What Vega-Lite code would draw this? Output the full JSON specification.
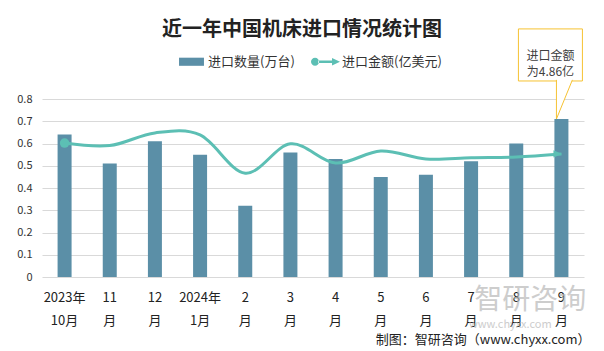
{
  "$schema": "https://vega.github.io/schema/vega-lite/v6.json",
  "width": 542,
  "height": 178,
  "autosize": {"type": "none"},
  "padding": {"left": 42, "top": 99, "right": 20, "bottom": 74},
  "background": "white",
  "title": {"text": "近一年中国机床进口情况统计图", "fontSize": 20, "font": "Noto Sans CJK SC", "fontWeight": "bold", "color": "#222222", "offset": -12, "dx": -11},
  "config": {"view": {"stroke": null}, "font": "Noto Sans CJK SC"},
  "data": {"values": [
    {"month": "2023年10月", "qty": 0.64, "amt": 5.29},
    {"month": "11月", "qty": 0.51, "amt": 5.19},
    {"month": "12月", "qty": 0.61, "amt": 5.69},
    {"month": "2024年1月", "qty": 0.55, "amt": 5.61},
    {"month": "2月", "qty": 0.32, "amt": 4.10},
    {"month": "3月", "qty": 0.56, "amt": 5.26},
    {"month": "4月", "qty": 0.53, "amt": 4.50},
    {"month": "5月", "qty": 0.45, "amt": 4.98},
    {"month": "6月", "qty": 0.46, "amt": 4.66},
    {"month": "7月", "qty": 0.52, "amt": 4.71},
    {"month": "8月", "qty": 0.60, "amt": 4.74},
    {"month": "9月", "qty": 0.71, "amt": 4.86}
  ]},
  "encoding": {
    "x": {
      "field": "month", "type": "nominal",
      "scale": {"domain": ["2023年10月", "11月", "12月", "2024年1月", "2月", "3月", "4月", "5月", "6月", "7月", "8月", "9月"], "paddingInner": 0.5, "paddingOuter": 0.25},
      "axis": {
        "title": "制图：智研咨询（www.chyxx.com）", "titleFontSize": 13, "titleFontWeight": "normal", "titleColor": "#222222",
        "titleAnchor": "end", "titleAlign": "right", "titleX": 548, "titleY": 66, "titleBaseline": "alphabetic",
        "labelAngle": 0, "labelFontSize": 13, "labelColor": "#222222", "labelLineHeight": 23, "labelPadding": 14, "labelOverlap": false,
        "labelExpr": "indexof(datum.label,'年')>0 ? [slice(datum.label,0,indexof(datum.label,'年')+1), slice(datum.label,indexof(datum.label,'年')+1)] : [slice(datum.label,0,length(datum.label)-1), '月']",
        "ticks": false, "domain": false
      }
    }
  },
  "layer": [
    {
      "layer": [
        {
          "mark": {"type": "bar", "width": 14},
          "encoding": {
            "y": {"field": "qty", "type": "quantitative", "scale": {"domain": [0, 0.8], "nice": false},
              "axis": {"title": null, "values": [0, 0.1, 0.2, 0.3, 0.4, 0.5, 0.6, 0.7, 0.8], "format": ".1~f", "grid": true, "gridColor": "#d9d9d9", "domain": false, "ticks": false, "labelPadding": 10, "labelFontSize": 11, "labelColor": "#333333", "labelOverlap": false}},
            "color": {"datum": "进口数量(万台)", "type": "nominal",
              "scale": {"domain": ["进口数量(万台)", "进口金额(亿美元)"], "range": ["#5b8fa7", "#5cbfb4"]},
              "legend": {"orient": "none", "legendX": 135, "legendY": -52, "direction": "horizontal", "title": null, "symbolSize": 841, "labelFontSize": 13, "labelColor": "#333333", "labelOffset": 2, "columnPadding": 16,
                "encode": {"symbols": {"update": {
                  "shape": {"signal": "datum.value === '进口数量(万台)' ? 'M-0.86,-0.28L0.86,-0.28L0.86,0.28L-0.86,0.28Z' : 'M-1,0A0.28,0.28 0 1,0 -0.44,0A0.28,0.28 0 1,0 -1,0ZM-0.5,-0.08L0.6,-0.08L0.6,0.08L-0.5,0.08ZM0.45,-0.26L1,0L0.45,0.26Z'"},
                  "fill": {"signal": "datum.value === '进口数量(万台)' ? '#5b8fa7' : '#5cbfb4'"},
                  "strokeWidth": {"value": 0},
                  "opacity": {"value": 1}
                }}}}
            }
          }
        },
        {
          "data": {"values": [{}]},
          "mark": {"type": "bar", "width": 64, "xOffset": -11, "fill": "white", "stroke": "#f6c232", "strokeWidth": 1},
          "encoding": {"x": {"datum": "9月", "type": "nominal"},
            "y": {"datum": 1.115, "type": "quantitative", "axis": {"title": null, "values": [0, 0.1, 0.2, 0.3, 0.4, 0.5, 0.6, 0.7, 0.8], "format": ".1~f", "grid": true, "gridColor": "#d9d9d9", "domain": false, "ticks": false, "labelPadding": 10, "labelFontSize": 11, "labelColor": "#333333", "labelOverlap": false}},
            "y2": {"datum": 0.881}}
        },
        {
          "data": {"values": [{}]},
          "mark": {"type": "point", "shape": "M-0.42,-1.06L-0.42,1L0.42,-1.06", "size": 1444, "filled": true, "fill": "white", "stroke": "#f6c232", "strokeWidth": 1, "opacity": 1, "xOffset": 3},
          "encoding": {"x": {"datum": "9月", "type": "nominal"},
            "y": {"datum": 0.7955, "type": "quantitative", "axis": {"title": null, "values": [0, 0.1, 0.2, 0.3, 0.4, 0.5, 0.6, 0.7, 0.8], "format": ".1~f", "grid": true, "gridColor": "#d9d9d9", "domain": false, "ticks": false, "labelPadding": 10, "labelFontSize": 11, "labelColor": "#333333", "labelOverlap": false}}}
        },
        {
          "data": {"values": [{}]},
          "mark": {"type": "text", "text": ["进口金额", "为4.86亿"], "lineHeight": 16, "fontSize": 12, "color": "#404040", "xOffset": -11, "baseline": "middle"},
          "encoding": {"x": {"datum": "9月", "type": "nominal"},
            "y": {"datum": 0.993, "type": "quantitative", "axis": {"title": null, "values": [0, 0.1, 0.2, 0.3, 0.4, 0.5, 0.6, 0.7, 0.8], "format": ".1~f", "grid": true, "gridColor": "#d9d9d9", "domain": false, "ticks": false, "labelPadding": 10, "labelFontSize": 11, "labelColor": "#333333", "labelOverlap": false}}}
        },
        {
          "data": {"values": [{}]},
          "mark": {"type": "text", "text": "智研咨询", "fontSize": 28, "color": "#b8b8b8", "opacity": 0.7, "xOffset": 14, "baseline": "middle"},
          "encoding": {"x": {"datum": "8月", "type": "nominal"},
            "y": {"datum": -0.108, "type": "quantitative", "axis": {"title": null, "values": [0, 0.1, 0.2, 0.3, 0.4, 0.5, 0.6, 0.7, 0.8], "format": ".1~f", "grid": true, "gridColor": "#d9d9d9", "domain": false, "ticks": false, "labelPadding": 10, "labelFontSize": 11, "labelColor": "#333333", "labelOverlap": false}}}
        },
        {
          "data": {"values": [{}]},
          "mark": {"type": "text", "text": "www.chyxx.com", "fontSize": 11, "letterSpacing": 5, "color": "#b8b8b8", "opacity": 0.7, "xOffset": -6, "baseline": "middle"},
          "encoding": {"x": {"datum": "8月", "type": "nominal"},
            "y": {"datum": -0.216, "type": "quantitative", "axis": {"title": null, "values": [0, 0.1, 0.2, 0.3, 0.4, 0.5, 0.6, 0.7, 0.8], "format": ".1~f", "grid": true, "gridColor": "#d9d9d9", "domain": false, "ticks": false, "labelPadding": 10, "labelFontSize": 11, "labelColor": "#333333", "labelOverlap": false}}}
        }
      ]
    },
    {
      "layer": [
        {
          "mark": {"type": "line", "interpolate": "cardinal", "strokeWidth": 3},
          "encoding": {
            "y": {"field": "amt", "type": "quantitative", "scale": {"domain": [0, 7.03], "nice": false}, "axis": null},
            "color": {"datum": "进口金额(亿美元)", "type": "nominal"}
          }
        },
        {
          "transform": [{"filter": "datum.month === '2023年10月'"}],
          "mark": {"type": "point", "shape": "circle", "filled": true, "size": 90, "color": "#5cbfb4", "opacity": 1},
          "encoding": {"y": {"field": "amt", "type": "quantitative"}}
        },
        {
          "transform": [{"filter": "datum.month === '9月'"}],
          "mark": {"type": "point", "shape": "M-2,-0.9L0.2,0L-2,0.9Z", "size": 64, "filled": true, "color": "#5cbfb4", "opacity": 1},
          "encoding": {"y": {"field": "amt", "type": "quantitative"}}
        }
      ]
    }
  ],
  "resolve": {"scale": {"y": "independent"}}
}
